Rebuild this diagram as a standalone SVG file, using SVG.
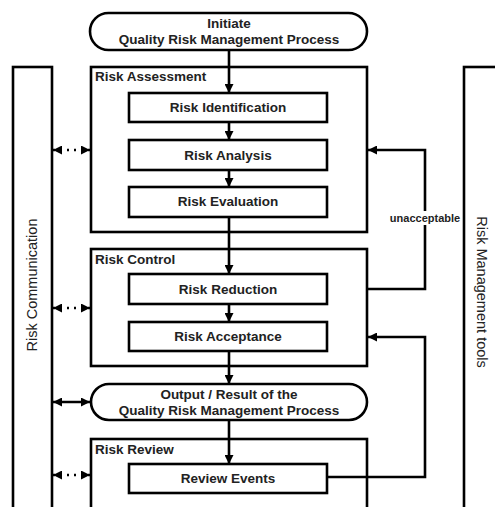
<svg xmlns="http://www.w3.org/2000/svg" width="495" height="507" viewBox="0 0 495 507">
<style>
.box{fill:#fff;stroke:#000;stroke-width:2.6}
.frame{fill:none;stroke:#000;stroke-width:2.6}
.line{fill:none;stroke:#000;stroke-width:2.6}
.dot{fill:none;stroke:#000;stroke-width:2.6;stroke-dasharray:2 5}
.t{font-family:"Liberation Sans",Arial,sans-serif;font-weight:bold;font-size:13.5px;fill:#222;text-anchor:middle}
.lab{font-family:"Liberation Sans",Arial,sans-serif;font-weight:bold;font-size:13.5px;fill:#222}
.side{font-family:"Liberation Sans",Arial,sans-serif;font-size:14.5px;fill:#222;text-anchor:middle}
.small{font-family:"Liberation Sans",Arial,sans-serif;font-weight:bold;font-size:11px;fill:#222;text-anchor:middle}
</style>
<defs>
<marker id="ah" viewBox="0 0 10 10" refX="10" refY="5" markerWidth="9" markerHeight="9" markerUnits="userSpaceOnUse" orient="auto-start-reverse">
<path d="M0,0 L10,5 L0,10 z" fill="#000"/>
</marker>
</defs>
<rect width="495" height="507" fill="#fff"/>

<g id="risk-communication">
<rect class="frame" x="13" y="67" width="39" height="460"/>
<text class="side" transform="translate(37,285) rotate(-90)">Risk Communication</text>
</g>
<g id="risk-management-tools">
<rect class="frame" x="464" y="67" width="60" height="460"/>
<text class="side" transform="translate(477,292) rotate(90)">Risk Management tools</text>
</g>

<g id="risk-assessment">
<rect class="frame" x="91" y="67" width="276" height="165"/>
<text class="lab" x="95" y="81">Risk Assessment</text>
</g>
<g id="risk-control">
<rect class="frame" x="91" y="249" width="276" height="117"/>
<text class="lab" x="95" y="264">Risk Control</text>
</g>
<g id="risk-review">
<rect class="frame" x="91" y="439" width="276" height="90"/>
<text class="lab" x="95" y="454">Risk Review</text>
</g>

<g id="connectors">
<line class="line" x1="229" y1="50" x2="229" y2="93" marker-end="url(#ah)"/>
<line class="line" x1="229" y1="122" x2="229" y2="140" marker-end="url(#ah)"/>
<line class="line" x1="229" y1="170" x2="229" y2="187" marker-end="url(#ah)"/>
<line class="line" x1="229" y1="217" x2="229" y2="274" marker-end="url(#ah)"/>
<line class="line" x1="229" y1="304" x2="229" y2="322" marker-end="url(#ah)"/>
<line class="line" x1="229" y1="351" x2="229" y2="384" marker-end="url(#ah)"/>
<line class="line" x1="229" y1="420" x2="229" y2="464" marker-end="url(#ah)"/>
<polyline class="line" points="367,289 425,289 425,150 368,150" marker-end="url(#ah)"/>
<polyline class="line" points="327,477 425,477 425,337 368,337" marker-end="url(#ah)"/>
<line class="dot" x1="53" y1="150" x2="90" y2="150" marker-start="url(#ah)" marker-end="url(#ah)"/>
<line class="dot" x1="53" y1="308" x2="90" y2="308" marker-start="url(#ah)" marker-end="url(#ah)"/>
<line class="line" x1="53" y1="402" x2="90" y2="402" marker-start="url(#ah)" marker-end="url(#ah)"/>
<line class="dot" x1="53" y1="475" x2="90" y2="475" marker-start="url(#ah)" marker-end="url(#ah)"/>
<rect x="389" y="211" width="72" height="14" fill="#fff"/>
<text class="small" x="425" y="222">unacceptable</text>
</g>

<g id="initiate">
<rect class="box" x="90" y="13" width="277" height="37" rx="18.5"/>
<text class="t" x="229" y="28">Initiate</text>
<text class="t" x="229" y="44">Quality Risk Management Process</text>
</g>
<g id="risk-identification">
<rect class="box" x="129" y="93" width="198" height="29"/>
<text class="t" x="228" y="112">Risk Identification</text>
</g>
<g id="risk-analysis">
<rect class="box" x="129" y="140" width="198" height="30"/>
<text class="t" x="228" y="160">Risk Analysis</text>
</g>
<g id="risk-evaluation">
<rect class="box" x="129" y="187" width="198" height="30"/>
<text class="t" x="228" y="206">Risk Evaluation</text>
</g>
<g id="risk-reduction">
<rect class="box" x="129" y="274" width="198" height="30"/>
<text class="t" x="228" y="294">Risk Reduction</text>
</g>
<g id="risk-acceptance">
<rect class="box" x="129" y="322" width="198" height="29"/>
<text class="t" x="228" y="341">Risk Acceptance</text>
</g>
<g id="output">
<rect class="box" x="91" y="384" width="276" height="36" rx="18"/>
<text class="t" x="229" y="399">Output / Result of the</text>
<text class="t" x="229" y="415">Quality Risk Management Process</text>
</g>
<g id="review-events">
<rect class="box" x="129" y="464" width="198" height="29"/>
<text class="t" x="228" y="483">Review Events</text>
</g>
</svg>
